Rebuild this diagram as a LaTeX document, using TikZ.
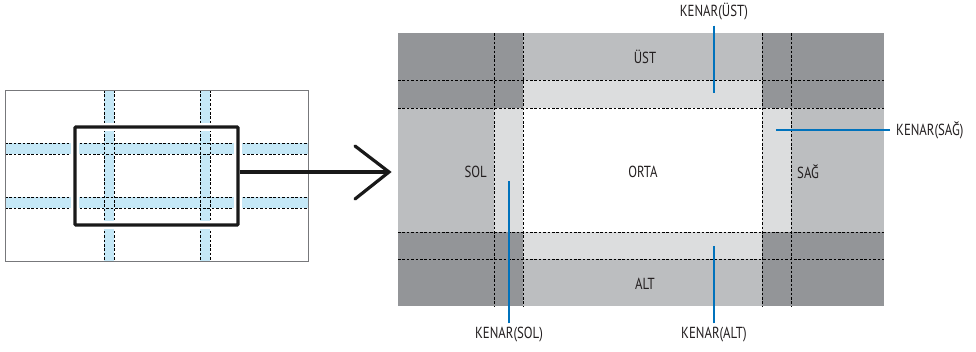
\documentclass[tikz,border=0pt]{standalone}
\usepackage{fontspec}
\setmainfont{PT Sans}[FakeStretch=0.8]
\definecolor{dk}{HTML}{939598}
\definecolor{md}{HTML}{BCBEC0}
\definecolor{lt}{HTML}{DCDDDE}
\definecolor{bl}{HTML}{C5E8F7}
\definecolor{kb}{HTML}{0072BC}
\definecolor{fr}{HTML}{77787B}
\definecolor{tx}{HTML}{231F20}
\tikzset{
  dsh/.style={black, line width=0.8pt, dash pattern=on 2.6pt off 1.8pt},
  lbl/.style={font=\fontsize{16}{18}\selectfont, text=tx, inner sep=0pt},
  callout/.style={kb, line width=2.4pt},
}
\begin{document}
\begin{tikzpicture}[x=1pt,y=-1pt]
\useasboundingbox (0,0) rectangle (976,351);
% ---------- left diagram ----------
\fill[white] (5,90) rectangle (308,261);
\fill[bl] (104,90) rectangle (114,261);
\fill[bl] (200,90) rectangle (210,261);
\fill[bl] (5,143) rectangle (308,154);
\fill[bl] (5,197) rectangle (308,208);
\foreach \x in {104,114,200,210} \draw[dsh] (\x,90) -- (\x,261);
\foreach \y in {143,154,197,208} \draw[dsh] (5,\y) -- (308,\y);
\node[draw=fr, line width=1pt, minimum width=303pt, minimum height=171pt, inner sep=0pt] (screen) at (156.5,175.5) {};
\draw[white, line width=8pt] (75,127) rectangle (238,225);
\node[draw=black!90, line width=3.2pt, rounded corners=1pt, minimum width=163pt, minimum height=98pt, inner sep=0pt] (sel) at (156.5,176) {};
\coordinate (tip) at (389,172);
\draw[black!90, line width=3.2pt] ([yshift=4pt]sel.east) -- (tip);
\draw[black!90, line width=3.2pt, line cap=round] (355,146) -- (tip) -- (355,199);
% ---------- right diagram ----------
\node[fill=dk, minimum width=486pt, minimum height=273pt, inner sep=0pt] (main) at (641,169.5) {};
\fill[md] (523,33) rectangle (762,80);
\fill[lt] (523,80) rectangle (762,108);
\fill[lt] (523,232) rectangle (762,259);
\fill[md] (523,259) rectangle (762,306);
\fill[md] (398,108) rectangle (494,232);
\fill[lt] (494,108) rectangle (523,232);
\fill[lt] (762,108) rectangle (791,232);
\fill[md] (791,108) rectangle (884,232);
\fill[white] (523,108) rectangle (762,232);
\foreach \x in {494,523,762,791} \draw[dsh] (\x,33) -- (\x,306);
\foreach \y in {80,108,232,259} \draw[dsh] (398,\y) -- (884,\y);
\node[lbl] (ust) at (645,57) {ÜST};
\node[lbl] (orta) at (643,172) {ORTA};
\node[lbl, anchor=east] (sol) at (487,172) {SOL};
\node[lbl, anchor=west] (sag) at (797,172) {SAĞ};
\node[lbl] (alt) at (645,284) {ALT};
% ---------- callouts ----------
\node[lbl] (kust) at (714,12) {KENAR(ÜST)};
\coordinate (pust) at (714,93);
\draw[callout] ([yshift=-5pt]kust.south) -- (pust);
\node[lbl, anchor=west] (ksag) at (896,130) {KENAR(SAĞ)};
\coordinate (psag) at (776,130);
\draw[callout] ([xshift=-6pt]ksag.west) -- (psag);
\node[lbl] (ksol) at (509,335) {KENAR(SOL)};
\coordinate (psol) at (509,181);
\draw[callout] ([yshift=4pt]ksol.north) -- (psol);
\node[lbl] (kalt) at (714,335) {KENAR(ALT)};
\coordinate (palt) at (714,246);
\draw[callout] ([yshift=4pt]kalt.north) -- (palt);
\end{tikzpicture}
\end{document}
